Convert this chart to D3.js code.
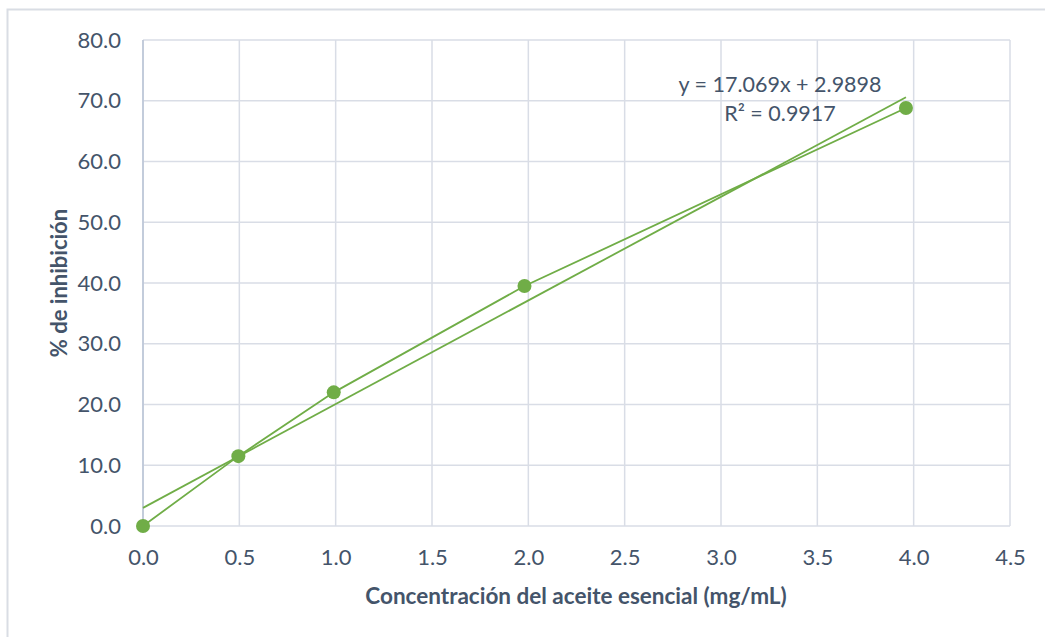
<!DOCTYPE html>
<html><head><meta charset="utf-8">
<script src="https://cdn.jsdelivr.net/npm/d3@7"></script>
<style>body{margin:0;background:#fff}text{font-family:Lato,"Open Sans",sans-serif;fill:#44546a}</style>
</head><body>
<svg id="c" width="1045" height="637"></svg>
<script>
const concentrations = [0, 0.495, 0.99, 1.98, 3.96];
const inhibition = [0, 11.5, 22.0, 39.5, 68.8];
const xTicks = [0, 0.5, 1, 1.5, 2, 2.5, 3, 3.5, 4, 4.5];
const yTicks = [0, 10, 20, 30, 40, 50, 60, 70, 80];
const slope = 17.069, intercept = 2.9898;
const eqLabel = "y = 17.069x + 2.9898";
const r2Label = "R² = 0.9917";
const xTitle = "Concentración del aceite esencial (mg/mL)";
const yTitle = "% de inhibición";

const svg = d3.select("#c");
const green = "#70ad47";
svg.append("rect").attr("x",7.5).attr("y",9.5).attr("width",1045).attr("height",640)
  .attr("fill","#fff").attr("stroke","#d9dde4").attr("stroke-width",2);

const x = d3.scaleLinear().domain([0,4.5]).range([143,1010]);
const y = d3.scaleLinear().domain([0,80]).range([526,40]);

const g = svg.append("g");
g.selectAll(".vg").data(xTicks).join("line")
  .attr("x1",d=>x(d)).attr("x2",d=>x(d)).attr("y1",y(0)).attr("y2",y(80))
  .attr("stroke","#d9dde6").attr("stroke-width",1.5);
g.selectAll(".hg").data(yTicks).join("line")
  .attr("x1",x(0)).attr("x2",x(4.5)).attr("y1",d=>y(d)).attr("y2",d=>y(d))
  .attr("stroke","#d9dde6").attr("stroke-width",1.5);
g.append("line").attr("x1",x(0)).attr("x2",x(0)).attr("y1",y(0)).attr("y2",y(80))
  .attr("stroke","#b8c3d6").attr("stroke-width",1.5);

const xAxis = svg.append("g").attr("transform",`translate(0,${y(0)})`)
  .call(d3.axisBottom(x).tickValues(xTicks).tickFormat(d3.format(".1f")).tickSize(0).tickPadding(23));
const yAxis = svg.append("g").attr("transform",`translate(${x(0)},0)`)
  .call(d3.axisLeft(y).tickValues(yTicks).tickFormat(d3.format(".1f")).tickSize(0).tickPadding(22));
[xAxis,yAxis].forEach(a=>{a.select(".domain").remove();
  a.selectAll("text").style("font-family","Lato,'Open Sans',sans-serif").style("font-size","22px").attr("fill","#44546a");});

const line = d3.line().x(d=>x(d[0])).y(d=>y(d[1]));
const pts = concentrations.map((c,i)=>[c,inhibition[i]]);
svg.append("path").attr("d",line(pts)).attr("fill","none").attr("stroke",green).attr("stroke-width",1.8);
const xmax = d3.max(concentrations);
svg.append("path").attr("d",line([[0,intercept],[xmax,slope*xmax+intercept]]))
  .attr("fill","none").attr("stroke",green).attr("stroke-width",1.8);
svg.selectAll(".pt").data(pts).join("circle")
  .attr("cx",d=>x(d[0])).attr("cy",d=>y(d[1])).attr("r",7).attr("fill",green);

svg.append("text").attr("x",780).attr("y",92).attr("text-anchor","middle").style("font-size","21.5px").text(eqLabel);
svg.append("text").attr("x",780).attr("y",121).attr("text-anchor","middle").style("font-size","21.5px").text(r2Label);

svg.append("text").attr("x",576).attr("y",604).attr("text-anchor","middle")
  .style("font-size","22.5px").style("font-weight","bold").text(xTitle);
svg.append("text").attr("transform","translate(67,283) rotate(-90)").attr("text-anchor","middle")
  .style("font-size","22px").style("font-weight","bold").text(yTitle);
</script>
</body></html>
